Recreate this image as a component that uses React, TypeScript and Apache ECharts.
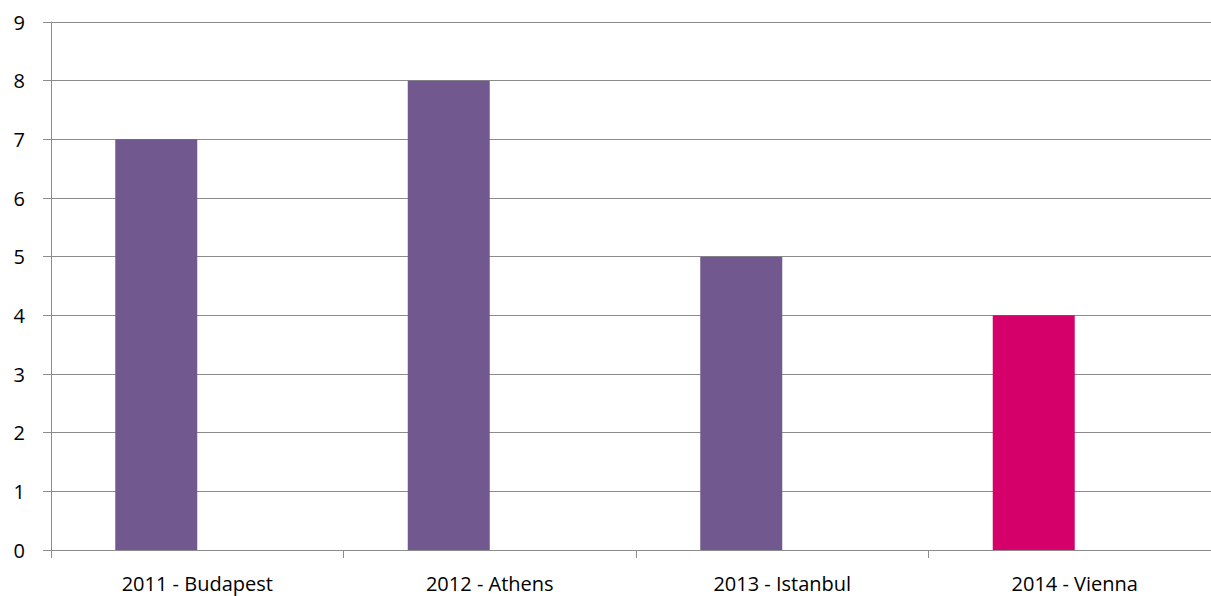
import React, { useEffect, useRef } from "react";
import * as echarts from "echarts";

const categories = ["2011 - Budapest", "2012 - Athens", "2013 - Istanbul", "2014 - Vienna"];
const values = [7, 8, 5, 4];
const barColors = ["#71588F", "#71588F", "#71588F", "#D6006B"];
const secondSeries: (number | null)[] = [null, null, null, null];
const yTicks = [0, 1, 2, 3, 4, 5, 6, 7, 8, 9];

export default function App() {
  const ref = useRef<HTMLDivElement>(null);
  useEffect(() => {
    if (!ref.current) return;
    const chart = echarts.init(ref.current, null, { renderer: "svg" });
    chart.setOption({
      animation: false,
      textStyle: { fontFamily: "Open Sans" },
      grid: { left: 51, top: 22, bottom: 46, right: 0, containLabel: false },
      xAxis: {
        type: "category",
        data: categories,
        axisLine: { lineStyle: { color: "#8c8c8c", width: 1 } },
        axisTick: { show: true, length: 8, lineStyle: { color: "#8c8c8c" } },
        axisLabel: {
          color: "#000",
          fontSize: 20,
          margin: 22,
          interval: 0,
          fontFamily: "Open Sans",
          lineHeight: 22,
        },
        splitLine: { show: false },
      },
      yAxis: {
        type: "value",
        min: yTicks[0],
        max: yTicks[yTicks.length - 1],
        interval: 1,
        axisLine: { show: true, lineStyle: { color: "#8c8c8c", width: 1 } },
        axisTick: { show: true, length: 8, lineStyle: { color: "#8c8c8c" } },
        axisLabel: { color: "#000", fontSize: 20, margin: 26, fontFamily: "Open Sans" },
        splitLine: { show: true, lineStyle: { color: "#8c8c8c", width: 1 } },
      },
      series: [
        {
          type: "bar",
          name: "Series 1",
          data: values.map((v, i) => ({ value: v, itemStyle: { color: barColors[i] } })),
          barWidth: 82,
          barGap: "0%",
        },
        {
          type: "bar",
          name: "Series 2",
          data: secondSeries,
          barWidth: 82,
          barGap: "0%",
        },
      ],
    });
    return () => chart.dispose();
  }, []);
  return (
    <div style={{ position: "fixed", left: 0, top: 0, width: 1211, height: 596, overflow: "hidden", background: "#fff" }}>
      <div ref={ref} style={{ position: "absolute", left: 0, top: 0, width: 1221, height: 596 }} />
    </div>
  );
}
